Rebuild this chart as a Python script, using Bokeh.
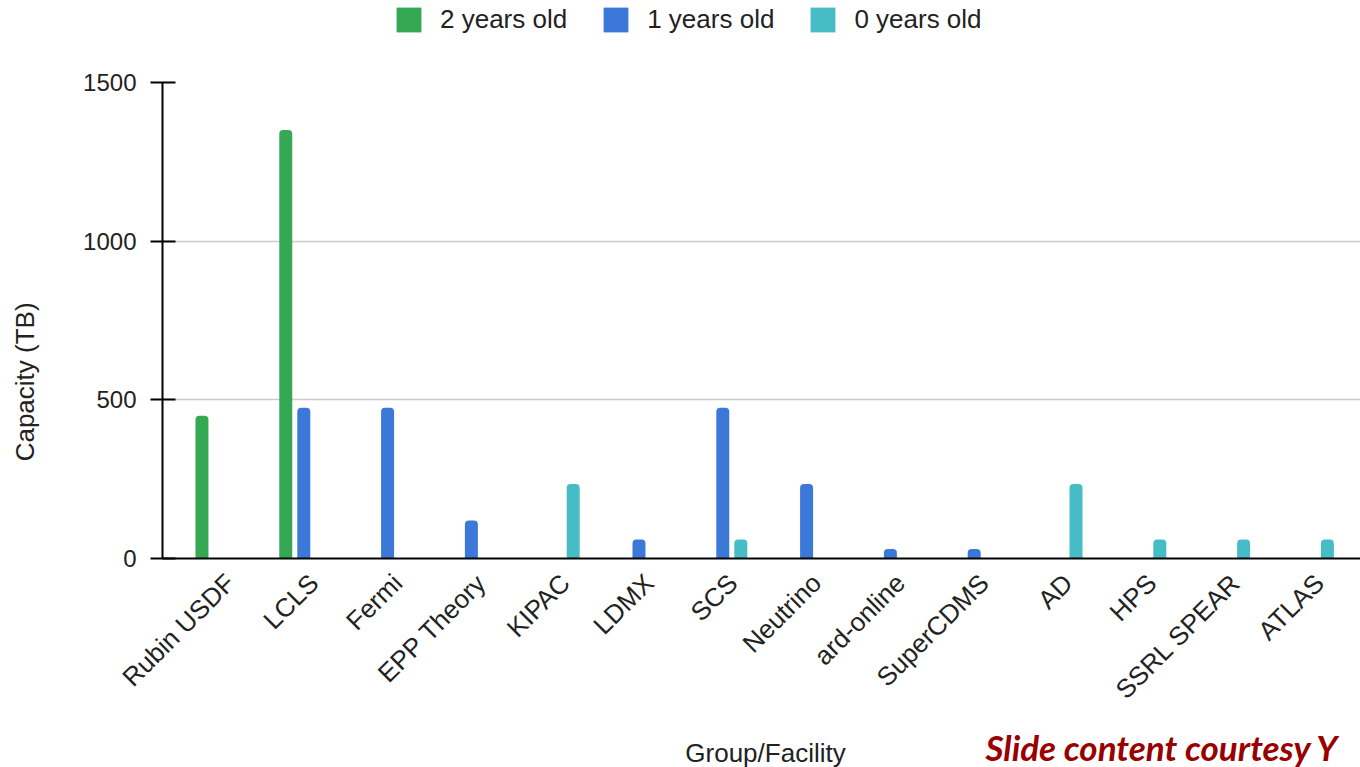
from bokeh.plotting import figure
from bokeh.models import (ColumnDataSource, Range1d, FixedTicker, Legend, LegendItem, Label)
from bokeh.layouts import column
from bokeh.transform import dodge
from bokeh.embed import file_html
from bokeh.resources import INLINE

# ---- data ----
categories = ["Rubin USDF", "LCLS", "Fermi", "EPP Theory", "KIPAC", "LDMX", "SCS",
              "Neutrino", "ard-online", "SuperCDMS", "AD", "HPS", "SSRL SPEAR", "ATLAS"]
two_years_old = [450, 1350, 0, 0, 0, 0, 0, 0, 0, 0, 0, 0, 0, 0]
one_years_old = [0, 475, 475, 120, 0, 60, 475, 235, 30, 30, 0, 0, 0, 0]
zero_years_old = [0, 0, 0, 0, 235, 0, 60, 0, 0, 0, 235, 60, 60, 60]
series_names = ["2 years old", "1 years old", "0 years old"]
series_colors = ["#34a853", "#3c78d8", "#46bdc6"]
y_ticks = [0, 500, 1000, 1500]
y_title = "Capacity (TB)"
x_title = "Group/Facility"
credit_text = "Slide content courtesy Y"

FONT = "Liberation Sans"
TXT = "#222222"
W = 1360
LEFT = 162          # frame left edge shared by all rows


def strip(height):
    f = figure(width=W, height=height, output_backend="svg", toolbar_location=None,
               title=None, x_axis_location=None, y_axis_location=None,
               x_range=Range1d(LEFT, W), y_range=Range1d(0, height),
               min_border_left=LEFT, min_border_right=0,
               min_border_top=0, min_border_bottom=0)
    f.outline_line_color = None
    f.grid.visible = False
    return f


# ---------------- legend strip ----------------
TOP_H = 60
top = strip(TOP_H)
swatch_src = ColumnDataSource(dict(x=[LEFT], t=[0]))  # zero-height: only feeds the legend swatches
dummy = [top.vbar(x="x", top="t", bottom=0, width=1, source=swatch_src,
                  fill_color=c, line_color=None) for c in series_colors]
legend = Legend(items=[LegendItem(label=n, renderers=[r]) for n, r in zip(series_names, dummy)],
                orientation="horizontal", location=(393 - LEFT, TOP_H - 35),
                glyph_width=31, glyph_height=31, label_height=31,
                label_text_font=FONT, label_text_font_size="26px", label_text_color=TXT,
                label_standoff=16, spacing=33, padding=0, margin=0,
                border_line_color=None, background_fill_alpha=0)
top.add_layout(legend, "center")

# ---------------- main chart ----------------
idx = list(range(len(categories)))
source = ColumnDataSource(dict(x=idx, s2=two_years_old, s1=one_years_old, s0=zero_years_old))

BOT_H = 45
MAIN_H = 767 - TOP_H - BOT_H
p = figure(width=W, height=MAIN_H, output_backend="svg", toolbar_location=None,
           x_range=Range1d(-0.686, 13.61), y_range=Range1d(0, 1500),
           min_border_left=LEFT, min_border_right=0,
           min_border_top=82 - TOP_H, min_border_bottom=MAIN_H - (558 - TOP_H))
p.outline_line_color = None
p.background_fill_color = "white"

offsets = [-0.215, 0.0, 0.215]
cols = ["s2", "s1", "s0"]
for col, off, color in zip(cols, offsets, series_colors):
    p.vbar(x=dodge("x", off), top=col, bottom=0, width=0.155, source=source,
           fill_color=color, line_color=None, border_radius=(4, 4, 0, 0))

# y axis
p.yaxis.ticker = FixedTicker(ticks=y_ticks)
p.yaxis.minor_tick_line_color = None
p.yaxis.major_tick_out = 12
p.yaxis.major_tick_in = 13
p.yaxis.major_tick_line_color = "black"
p.yaxis.major_tick_line_width = 2
p.yaxis.axis_line_color = "black"
p.yaxis.axis_line_width = 2
p.yaxis.major_label_text_font = FONT
p.yaxis.major_label_text_font_size = "24px"
p.yaxis.major_label_text_color = TXT
p.yaxis.major_label_standoff = 14
# non-breaking spaces shift the title toward the bottom, as in the reference
p.yaxis.axis_label = y_title + "\u00a0" * 17
p.yaxis.axis_label_text_font = FONT
p.yaxis.axis_label_text_font_size = "26px"
p.yaxis.axis_label_text_font_style = "normal"
p.yaxis.axis_label_text_color = TXT
p.yaxis.axis_label_standoff = 40

# x axis (labels sit slightly right of the group centre, like the reference)
label_shift = 0.12
tick_pos = [i + label_shift for i in idx]
p.xaxis.ticker = FixedTicker(ticks=tick_pos)
p.xaxis.major_label_overrides = {t: c for t, c in zip(tick_pos, categories)}
p.xaxis.major_label_orientation = 0.785398
p.xaxis.minor_tick_line_color = None
p.xaxis.major_tick_out = 0
p.xaxis.major_tick_in = 0
p.xaxis.axis_line_color = "black"
p.xaxis.axis_line_width = 2
p.xaxis.major_label_text_font = FONT
p.xaxis.major_label_text_font_size = "26px"
p.xaxis.major_label_text_color = TXT
p.xaxis.major_label_standoff = 20

p.xgrid.grid_line_color = None
p.ygrid.grid_line_color = "#cccccc"
p.ygrid.grid_line_width = 1.5

# ---------------- bottom strip (x title + credit) ----------------
bot = strip(BOT_H)
bot.add_layout(Label(x=765, y=15, text=x_title, text_font=FONT, text_font_size="26px",
                     text_color=TXT, text_align="center", text_baseline="alphabetic"))
bot.add_layout(Label(x=985, y=21, text=credit_text, text_font="Lato",
                     text_font_style="bold italic", text_font_size="35px",
                     text_color="#990000", text_align="left", text_baseline="alphabetic"))

layout = column(top, p, bot, spacing=0)
open("out.html", "w").write(file_html(layout, INLINE))
